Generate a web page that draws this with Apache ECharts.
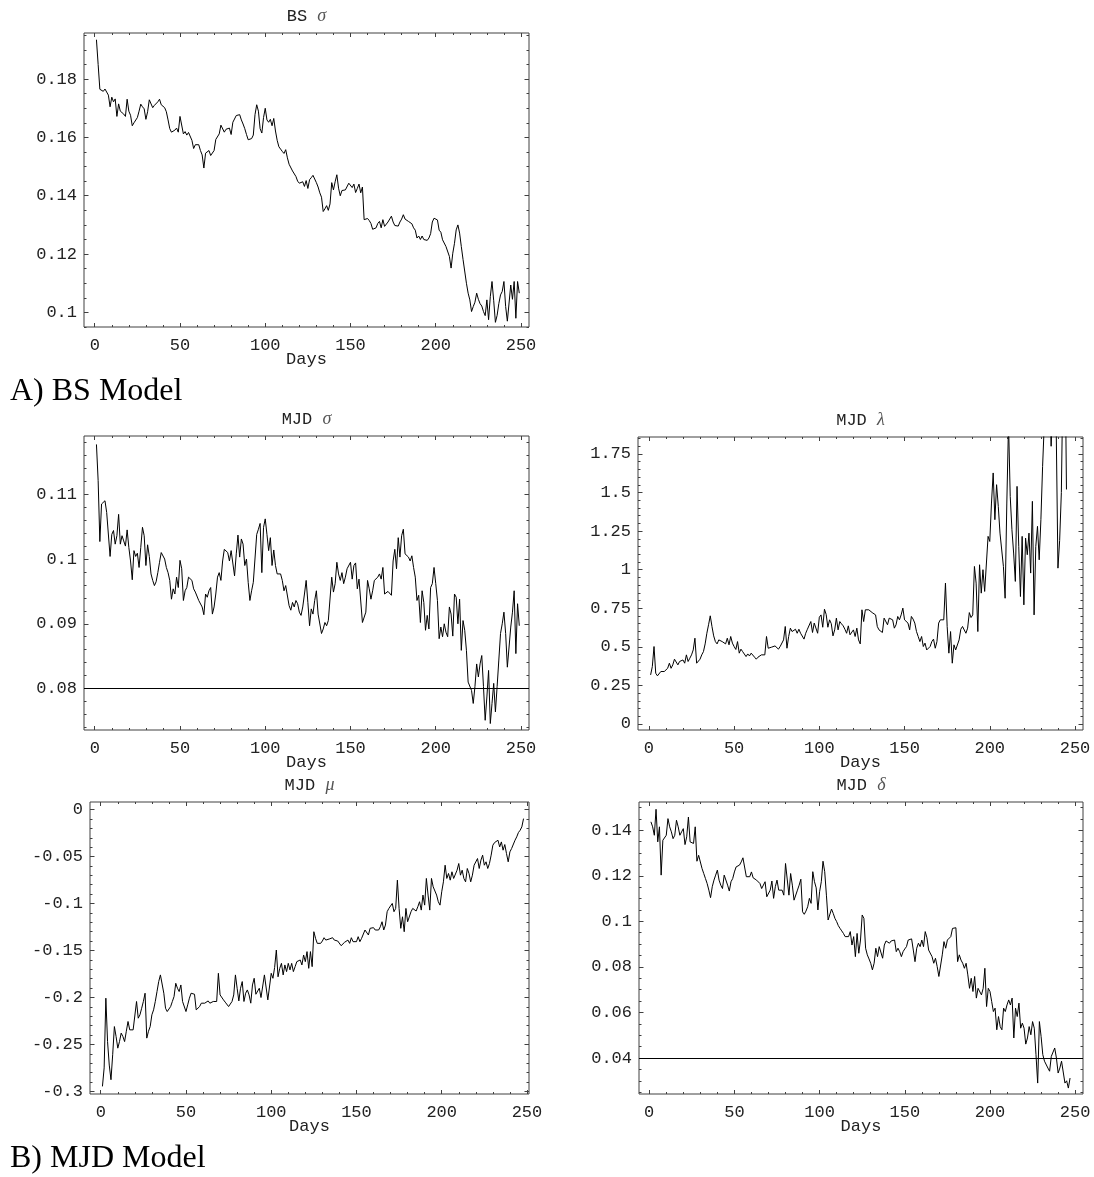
<!DOCTYPE html>
<html>
<head>
<meta charset="utf-8">
<script src="https://cdn.jsdelivr.net/npm/echarts@6/dist/echarts.min.js"></script>
<style>
  html, body { margin: 0; padding: 0; background: #ffffff; }
  #chart { width: 1094px; height: 1177px; }
</style>
</head>
<body>
<div id="chart"></div>
<script>
// Day axis tick labels (shared by every panel)
const dayTicks = [0, 50, 100, 150, 200, 250];

// Black-Scholes implied volatility, one value per trading day
const bsSigma = [
  0.1935, 0.1850, 0.1765, 0.1760, 0.1758, 0.1766, 0.1762, 0.1745, 0.1705, 0.1738,
  0.1722, 0.1732, 0.1672, 0.1715, 0.1690, 0.1695, 0.1680, 0.1672, 0.1731, 0.1690,
  0.1676, 0.1640, 0.1650, 0.1648, 0.1668, 0.1690, 0.1714, 0.1705, 0.1698, 0.1662,
  0.1688, 0.1729, 0.1733, 0.1702, 0.1710, 0.1716, 0.1722, 0.1731, 0.1712, 0.1710,
  0.1702, 0.1688, 0.1660, 0.1630, 0.1618, 0.1620, 0.1625, 0.1632, 0.1618, 0.1672,
  0.1672, 0.1612, 0.1620, 0.1608, 0.1617, 0.1612, 0.1590, 0.1562, 0.1575, 0.1572,
  0.1575, 0.1555, 0.1540, 0.1495, 0.1546, 0.1552, 0.1555, 0.1538, 0.1542, 0.1555,
  0.1593, 0.1590, 0.1612, 0.1642, 0.1640, 0.1618, 0.1628, 0.1630, 0.1632, 0.1610,
  0.1652, 0.1648, 0.1675, 0.1672, 0.1678, 0.1660, 0.1646, 0.1630, 0.1610, 0.1592,
  0.1596, 0.1596, 0.1608, 0.1678, 0.1712, 0.1690, 0.1630, 0.1615, 0.1668, 0.1700,
  0.1660, 0.1652, 0.1662, 0.1640, 0.1665, 0.1622, 0.1590, 0.1568, 0.1560, 0.1552,
  0.1545, 0.1558, 0.1530, 0.1508, 0.1505, 0.1485, 0.1484, 0.1466, 0.1450, 0.1443,
  0.1445, 0.1448, 0.1432, 0.1452, 0.1425, 0.1455, 0.1462, 0.1470, 0.1473, 0.1445,
  0.1430, 0.1410, 0.1395, 0.1346, 0.1355, 0.1366, 0.1350, 0.1372, 0.1445, 0.1420,
  0.1448, 0.1472, 0.1426, 0.1400, 0.1418, 0.1416, 0.1420, 0.1418, 0.1443, 0.1438,
  0.1428, 0.1440, 0.1411, 0.1425, 0.1440, 0.1410, 0.1430, 0.1318, 0.1320, 0.1322,
  0.1315, 0.1305, 0.1285, 0.1283, 0.1290, 0.1305, 0.1312, 0.1290, 0.1318, 0.1295,
  0.1300, 0.1310, 0.1315, 0.1330, 0.1310, 0.1298, 0.1298, 0.1296, 0.1310, 0.1320,
  0.1335, 0.1320, 0.1322, 0.1312, 0.1318, 0.1304, 0.1290, 0.1282, 0.1255, 0.1262,
  0.1250, 0.1262, 0.1250, 0.1248, 0.1247, 0.1255, 0.1270, 0.1310, 0.1323, 0.1324,
  0.1317, 0.1282, 0.1275, 0.1249, 0.1252, 0.1226, 0.1222, 0.1192, 0.1152, 0.1203,
  0.1237, 0.1283, 0.1300, 0.1272, 0.1226, 0.1182, 0.1178, 0.1100, 0.1066, 0.1043,
  0.1003, 0.1020, 0.1035, 0.1066, 0.1045, 0.1030, 0.1022, 0.1003, 0.0989, 0.1043,
  0.0975, 0.1054, 0.1106, 0.1040, 0.0966, 0.0990, 0.1030, 0.1060, 0.1072, 0.1106,
  0.1020, 0.0970, 0.0972, 0.1094, 0.1045, 0.1106, 0.0980, 0.1106, 0.1066
];

// Merton jump-diffusion: diffusion volatility
const mjdSigma = [
  0.1177, 0.1121, 0.1027, 0.1085, 0.1087, 0.1090, 0.1072, 0.1069, 0.1004, 0.1038,
  0.1044, 0.1023, 0.1036, 0.1069, 0.1023, 0.1036, 0.1028, 0.1020, 0.1045, 0.1018,
  0.0997, 0.0968, 0.1013, 0.1004, 0.1009, 0.0987, 0.1018, 0.1049, 0.1036, 0.0990,
  0.1022, 0.1004, 0.0977, 0.0967, 0.0959, 0.0965, 0.0979, 0.0995, 0.1010, 0.1008,
  0.1000, 0.0987, 0.0979, 0.0967, 0.0938, 0.0954, 0.0946, 0.0972, 0.0956, 0.0998,
  0.0985, 0.0936, 0.0951, 0.0956, 0.0972, 0.0973, 0.0967, 0.0954, 0.0949, 0.0951,
  0.0936, 0.0933, 0.0926, 0.0914, 0.0946, 0.0941, 0.0951, 0.0956, 0.0915, 0.0926,
  0.0946, 0.0972, 0.0979, 0.0967, 0.0997, 0.1015, 0.1013, 0.1010, 0.0997, 0.1013,
  0.1010, 0.0974, 0.1008, 0.1037, 0.1003, 0.1031, 0.1023, 0.0990, 0.1000, 0.0964,
  0.0936, 0.0951, 0.0964, 0.0962, 0.1038, 0.1046, 0.1055, 0.0979, 0.1049, 0.1062,
  0.1038, 0.1013, 0.1033, 0.0990, 0.1014, 0.0990, 0.0977, 0.0974, 0.0977, 0.0967,
  0.0951, 0.0959, 0.0962, 0.0928, 0.0921, 0.0933, 0.0926, 0.0936, 0.0931, 0.0918,
  0.0913, 0.0926, 0.0946, 0.0967, 0.0933, 0.0897, 0.0923, 0.0915, 0.0936, 0.0951,
  0.0915, 0.0918, 0.0885, 0.0892, 0.0902, 0.0897, 0.0905, 0.0905, 0.0972, 0.0949,
  0.0962, 0.0995, 0.0977, 0.0967, 0.0979, 0.0962, 0.0972, 0.0985, 0.0987, 0.0995,
  0.0969, 0.0990, 0.0994, 0.0954, 0.0969, 0.0967, 0.0902, 0.0905, 0.0918, 0.0967,
  0.0954, 0.0938, 0.0951, 0.0967, 0.0968, 0.0972, 0.0977, 0.0969, 0.0987, 0.0946,
  0.0946, 0.0950, 0.0952, 0.0944, 0.0997, 0.1015, 0.0985, 0.1033, 0.1003, 0.1036,
  0.1046, 0.1008, 0.1005, 0.1003, 0.0997, 0.1005, 0.0987, 0.0972, 0.0936, 0.0944,
  0.0902, 0.0951, 0.0933, 0.0890, 0.0913, 0.0892, 0.0956, 0.0962, 0.0987, 0.0962,
  0.0936, 0.0877, 0.0895, 0.0880, 0.0900, 0.0887, 0.0880, 0.0926, 0.0915, 0.0881,
  0.0946, 0.0941, 0.0900, 0.0938, 0.0859, 0.0905, 0.0890, 0.0859, 0.0810, 0.0813,
  0.0797, 0.0777, 0.0803, 0.0838, 0.0818, 0.0838, 0.0851, 0.0803, 0.0751, 0.0787,
  0.0828, 0.0746, 0.0777, 0.0808, 0.0764, 0.0803, 0.0844, 0.0885, 0.0900, 0.0918,
  0.0885, 0.0833, 0.0833, 0.0895, 0.0918, 0.0951, 0.0854, 0.0931, 0.0897
];

// Merton jump-diffusion: jump intensity (values above the frame are clipped)
const mjdLambda = [
  0.318, 0.372, 0.502, 0.329, 0.312, 0.303, 0.340, 0.329, 0.340, 0.329,
  0.361, 0.394, 0.361, 0.383, 0.420, 0.415, 0.383, 0.405, 0.405, 0.415,
  0.394, 0.448, 0.405, 0.426, 0.448, 0.480, 0.556, 0.394, 0.398, 0.420,
  0.448, 0.469, 0.519, 0.588, 0.643, 0.701, 0.632, 0.571, 0.534, 0.519,
  0.545, 0.556, 0.534, 0.545, 0.519, 0.556, 0.513, 0.567, 0.524, 0.502,
  0.483, 0.534, 0.459, 0.485, 0.469, 0.459, 0.437, 0.454, 0.441, 0.459,
  0.454, 0.433, 0.420, 0.433, 0.426, 0.448, 0.441, 0.448, 0.567, 0.491,
  0.496, 0.498, 0.502, 0.506, 0.502, 0.485, 0.502, 0.513, 0.545, 0.632,
  0.491, 0.567, 0.621, 0.599, 0.610, 0.614, 0.588, 0.614, 0.588, 0.578,
  0.550, 0.588, 0.614, 0.610, 0.664, 0.593, 0.654, 0.650, 0.588, 0.692,
  0.707, 0.627, 0.744, 0.710, 0.627, 0.675, 0.650, 0.571, 0.610, 0.686,
  0.610, 0.664, 0.649, 0.636, 0.614, 0.588, 0.636, 0.578, 0.588, 0.610,
  0.567, 0.621, 0.545, 0.519, 0.740, 0.664, 0.740, 0.751, 0.740, 0.729,
  0.722, 0.718, 0.707, 0.632, 0.610, 0.599, 0.593, 0.686, 0.675, 0.643,
  0.686, 0.686, 0.675, 0.621, 0.643, 0.697, 0.675, 0.707, 0.751, 0.675,
  0.680, 0.654, 0.610, 0.697, 0.680, 0.654, 0.599, 0.567, 0.534, 0.567,
  0.502, 0.524, 0.480, 0.469, 0.502, 0.534, 0.550, 0.491, 0.534, 0.654,
  0.675, 0.675, 0.675, 0.913, 0.632, 0.459, 0.599, 0.394, 0.513, 0.480,
  0.480, 0.545, 0.614, 0.632, 0.621, 0.588, 0.621, 0.722, 0.690, 0.707,
  1.021, 0.913, 0.599, 1.032, 0.848, 1.000, 0.859, 0.859, 1.216, 1.183,
  1.432, 1.627, 1.324, 1.551, 1.410, 1.237, 1.227, 1.021, 0.815, 1.432,
  1.950, 1.475, 1.259, 1.108, 0.924, 1.540, 1.151, 0.826, 1.216, 0.772,
  1.205, 1.097, 1.237, 0.978, 1.443, 0.707, 1.151, 1.281, 1.064, 1.324,
  1.670, 1.950, 2.300, 2.600, 2.200, 1.800, 2.100, 2.400, 1.900, 1.010,
  1.190, 1.500, 2.300, 2.600, 1.520
];

// Merton jump-diffusion: mean jump size
const mjdMu = [
  -0.2947, -0.2750, -0.2008, -0.2470, -0.2720, -0.2876, -0.2610, -0.2310, -0.2416, -0.2540,
  -0.2470, -0.2380, -0.2416, -0.2470, -0.2360, -0.2256, -0.2345, -0.2355, -0.2345, -0.2327,
  -0.2043, -0.2221, -0.2185, -0.2115, -0.2043, -0.1955, -0.2433, -0.2360, -0.2310, -0.2185,
  -0.2132, -0.2043, -0.1937, -0.1831, -0.1760, -0.1778, -0.1955, -0.2115, -0.2150, -0.2132,
  -0.2097, -0.2043, -0.1990, -0.1849, -0.1902, -0.1937, -0.1867, -0.2043, -0.2043, -0.2150,
  -0.2079, -0.2008, -0.1955, -0.1966, -0.1966, -0.2132, -0.2132, -0.2097, -0.2061, -0.2061,
  -0.2061, -0.2043, -0.2037, -0.2061, -0.2061, -0.2043, -0.2061, -0.2043, -0.1743,
  -0.1973, -0.1966, -0.2026, -0.2050, -0.2061, -0.2097, -0.2115, -0.2043, -0.1973, -0.1760,
  -0.1902, -0.2037, -0.1902, -0.1831, -0.2043, -0.1955, -0.1920, -0.1973, -0.2061, -0.1867,
  -0.1796, -0.1966, -0.1973, -0.1902, -0.2001, -0.2008, -0.1760, -0.1743, -0.2026, -0.2026,
  -0.1743, -0.1796, -0.1680, -0.1495, -0.1780, -0.1690, -0.1637, -0.1760, -0.1654, -0.1725,
  -0.1637, -0.1707, -0.1637, -0.1725, -0.1672, -0.1619, -0.1637, -0.1601, -0.1654, -0.1548,
  -0.1619, -0.1512, -0.1690, -0.1512, -0.1672, -0.1300,
  -0.1371, -0.1424, -0.1442, -0.1424, -0.1399, -0.1364, -0.1389, -0.1406, -0.1378, -0.1371,
  -0.1364, -0.1389, -0.1406, -0.1399, -0.1406, -0.1449, -0.1435, -0.1413, -0.1424, -0.1389,
  -0.1424, -0.1364, -0.1406, -0.1389, -0.1406, -0.1353, -0.1406, -0.1371, -0.1389, -0.1282,
  -0.1300, -0.1335, -0.1264, -0.1272, -0.1257, -0.1282, -0.1264, -0.1282, -0.1247, -0.1194,
  -0.1282, -0.1229, -0.1087, -0.1052, -0.1070, -0.0999, -0.1087, -0.1052, -0.0751,
  -0.1052, -0.1264, -0.1141, -0.1300, -0.1052, -0.1194, -0.1211, -0.1087, -0.1052, -0.1070,
  -0.1080, -0.1034, -0.0981, -0.1070, -0.0910, -0.1017, -0.0733, -0.0910, -0.1070, -0.0733,
  -0.0822, -0.0839, -0.0910, -0.0981, -0.1017, -0.0875, -0.0769, -0.0592, -0.0733, -0.0680,
  -0.0751, -0.0662, -0.0733, -0.0733, -0.0645, -0.0574, -0.0698, -0.0645, -0.0733, -0.0769,
  -0.0627, -0.0680, -0.0769, -0.0698, -0.0592, -0.0574, -0.0521, -0.0627, -0.0538, -0.0485,
  -0.0592, -0.0556, -0.0627, -0.0574, -0.0485, -0.0379, -0.0351, -0.0351, -0.0326, -0.0397,
  -0.0344, -0.0432, -0.0372, -0.0468, -0.0556, -0.0450, -0.0414, -0.0414, -0.0326, -0.0290,
  -0.0244, -0.0220, -0.0184, -0.0096
];

// Merton jump-diffusion: jump size volatility
const mjdDelta = [
  0.1437, 0.1415, 0.1378, 0.1492, 0.1349, 0.1415, 0.1203, 0.1356, 0.1356, 0.1378,
  0.1451, 0.1415, 0.1393, 0.1363, 0.1378, 0.1444, 0.1415, 0.1378, 0.1393, 0.1407,
  0.1337, 0.1371, 0.1458, 0.1349, 0.1346, 0.1342, 0.1415, 0.1264, 0.1290, 0.1298,
  0.1232, 0.1210, 0.1188, 0.1166, 0.1137, 0.1104, 0.1152, 0.1181, 0.1203, 0.1225,
  0.1181, 0.1159, 0.1144, 0.1203, 0.1203, 0.1159, 0.1133, 0.1174, 0.1188, 0.1217,
  0.1239, 0.1232, 0.1247, 0.1261, 0.1279, 0.1279, 0.1196, 0.1188, 0.1196, 0.1217,
  0.1191, 0.1185, 0.1181, 0.1177, 0.1166, 0.1144, 0.1152, 0.1174, 0.1108, 0.1115,
  0.1137, 0.1177, 0.1101, 0.1152, 0.1181, 0.1137, 0.1144, 0.1137, 0.1115, 0.1254,
  0.1254, 0.1115, 0.1210, 0.1159, 0.1093, 0.1086, 0.1137, 0.1159, 0.1185, 0.1042,
  0.1031, 0.1045, 0.1064, 0.1101, 0.1079, 0.1218, 0.1174, 0.1147, 0.1050, 0.1130,
  0.1174, 0.1264, 0.1218, 0.1115, 0.1006, 0.1001, 0.1054, 0.1035, 0.1013, 0.0999,
  0.0981, 0.0969, 0.0958, 0.0947, 0.0933, 0.0940, 0.0933, 0.0955, 0.0896,
  0.0933, 0.0845, 0.0947, 0.0860, 0.0918, 0.1028, 0.1013, 0.0882,
  0.0853, 0.0835, 0.0816, 0.0787, 0.0816, 0.0882, 0.0845, 0.0889,
  0.0885, 0.0838, 0.0896, 0.0914, 0.0918, 0.0904, 0.0914, 0.0911,
  0.0918, 0.0867, 0.0882, 0.0867, 0.0845, 0.0867, 0.0879, 0.0889,
  0.0918, 0.0911, 0.0923, 0.0874, 0.0823, 0.0882, 0.0904, 0.0889,
  0.0918, 0.0889, 0.0955, 0.0928, 0.0874, 0.0867, 0.0845, 0.0816,
  0.0838, 0.0802, 0.0758, 0.0765, 0.0853, 0.0911, 0.0882, 0.0918,
  0.0911, 0.0933, 0.0969, 0.0969, 0.0972, 0.0823, 0.0853, 0.0830,
  0.0816, 0.0794, 0.0816, 0.0765, 0.0706, 0.0750, 0.0692, 0.0758,
  0.0663, 0.0706, 0.0706, 0.0677, 0.0706, 0.0794, 0.0626, 0.0706,
  0.0692, 0.0648, 0.0604, 0.0619, 0.0524, 0.0582, 0.0538, 0.0524,
  0.0619, 0.0604, 0.0633, 0.0655, 0.0633, 0.0663, 0.0488, 0.0619,
  0.0582, 0.0641, 0.0531, 0.0553, 0.0531, 0.0461, 0.0488, 0.0538,
  0.0502, 0.0560, 0.0531, 0.0415, 0.0290, 0.0560, 0.0495, 0.0415,
  0.0386, 0.0393, 0.0356, 0.0342, 0.0407, 0.0415, 0.0444, 0.0400,
  0.0334, 0.0356, 0.0386, 0.0378, 0.0290, 0.0300, 0.0268, 0.0312
];

// Value-axis tick labels
const bsSigmaTicks = [0.1, 0.12, 0.14, 0.16, 0.18];
const mjdSigmaTicks = [0.08, 0.09, 0.1, 0.11];
const mjdLambdaTicks = [0, 0.25, 0.5, 0.75, 1, 1.25, 1.5, 1.75];
const mjdMuTicks = [-0.3, -0.25, -0.2, -0.15, -0.1, -0.05, 0];
const mjdDeltaTicks = [0.04, 0.06, 0.08, 0.1, 0.12, 0.14];

// Reference levels drawn across two of the panels
const mjdSigmaLevel = 0.08;
const mjdDeltaLevel = 0.04;

// Panel layout: frame box [left, top, width, height] in px, axis extents, minor steps
const panels = [
  { label: 'BS', greek: 'σ', data: bsSigma, ticks: bsSigmaTicks, minor: 0.005,
    box: [84, 33, 445, 294], x: [-6.3, 254.7], y: [0.0950, 0.1958] },
  { label: 'MJD', greek: 'σ', data: mjdSigma, ticks: mjdSigmaTicks, minor: 0.002, level: mjdSigmaLevel,
    box: [84, 436, 445, 294], x: [-6.3, 254.7], y: [0.0736, 0.1190] },
  { label: 'MJD', greek: 'λ', data: mjdLambda, ticks: mjdLambdaTicks, minor: 0.05,
    box: [638, 437, 445, 293], x: [-6.4, 254.7], y: [-0.039, 1.860] },
  { label: 'MJD', greek: 'μ', data: mjdMu, ticks: mjdMuTicks, minor: 0.01,
    box: [90, 802, 439, 292], x: [-6.3, 251.2], y: [-0.3028, 0.0081] },
  { label: 'MJD', greek: 'δ', data: mjdDelta, ticks: mjdDeltaTicks, minor: 0.005, level: mjdDeltaLevel,
    box: [639, 802, 444, 292], x: [-6.0, 254.6], y: [0.0242, 0.1524] }
];

const FRAME = '#404040';
const TEXT = '#222222';
const MONO = '"Liberation Mono", "DejaVu Sans Mono", monospace';
const SERIF = '"Liberation Serif", "DejaVu Serif", serif';

function stepValues(lo, hi, step, skip) {
  const out = [];
  const k0 = Math.ceil(lo / step - 1e-9);
  for (let k = k0; k * step <= hi + 1e-9; k++) {
    const v = +(k * step).toFixed(6);
    if (!skip.some(s => Math.abs(s - v) < 1e-9)) out.push(v);
  }
  return out;
}

function fmt(v) { return String(+(+v).toFixed(4)); }

function axis(kind, g, pos, range, values, len, withLabels) {
  const a = {
    type: 'value', gridIndex: g, position: pos, min: range[0], max: range[1],
    axisLine: { show: false, onZero: false }, splitLine: { show: false },
    axisTick: { show: true, inside: true, length: len, customValues: values,
                lineStyle: { color: FRAME, width: 1 } },
    axisLabel: { show: false }
  };
  if (withLabels) {
    a.axisLabel = {
      show: true, customValues: values, formatter: fmt,
      margin: kind === 'x' ? 10 : 7, color: TEXT, fontFamily: MONO, fontSize: 17
    };
  }
  return a;
}

const grids = [], xAxes = [], yAxes = [], series = [], graphics = [];

panels.forEach((p, g) => {
  const [left, top, width, height] = p.box;
  grids.push({ left, top, width, height, show: true, borderColor: FRAME, borderWidth: 1,
               backgroundColor: 'transparent' });

  const xMinor = stepValues(p.x[0], p.x[1], 10, dayTicks);
  const yMinor = stepValues(p.y[0], p.y[1], p.minor, p.ticks);

  xAxes.push(axis('x', g, 'bottom', p.x, dayTicks, 4, true));
  xAxes.push(axis('x', g, 'bottom', p.x, xMinor, 2, false));
  xAxes.push(axis('x', g, 'top', p.x, dayTicks, 4, false));
  xAxes.push(axis('x', g, 'top', p.x, xMinor, 2, false));

  yAxes.push(axis('y', g, 'left', p.y, p.ticks, 4.5, true));
  yAxes.push(axis('y', g, 'left', p.y, yMinor, 2.5, false));
  yAxes.push(axis('y', g, 'right', p.y, p.ticks, 4.5, false));
  yAxes.push(axis('y', g, 'right', p.y, yMinor, 2.5, false));

  const s = {
    type: 'line', xAxisIndex: 4 * g, yAxisIndex: 4 * g,
    data: p.data.map((v, i) => [i + 1, v]),
    showSymbol: false, symbol: 'none', clip: true, silent: true,
    lineStyle: { color: '#000000', width: 1 }
  };
  if (p.level !== undefined) {
    s.markLine = {
      silent: true, symbol: 'none', animation: false,
      label: { show: false },
      lineStyle: { color: '#000000', width: 1, type: 'solid' },
      data: [{ yAxis: p.level }]
    };
  }
  series.push(s);

  const cx = left + width / 2;
  graphics.push({
    type: 'text', x: cx, y: top - 17,
    style: {
      text: '{a|' + p.label + ' }{b|' + p.greek + '}',
      align: 'center', verticalAlign: 'middle',
      rich: {
        a: { fontFamily: MONO, fontSize: 17, fill: TEXT },
        b: { fontFamily: SERIF, fontStyle: 'italic', fontSize: 18, fill: '#555555' }
      }
    }
  });
  graphics.push({
    type: 'text', x: cx, y: top + height + 32.5,
    style: { text: 'Days', fontFamily: MONO, fontSize: 17, fill: TEXT,
             align: 'center', verticalAlign: 'middle' }
  });
});

graphics.push({
  type: 'text', x: 10, y: 392,
  style: { text: 'A) BS Model', fontFamily: SERIF, fontSize: 32, fill: '#000000',
           align: 'left', verticalAlign: 'middle' }
});
graphics.push({
  type: 'text', x: 10, y: 1159,
  style: { text: 'B) MJD Model', fontFamily: SERIF, fontSize: 32, fill: '#000000',
           align: 'left', verticalAlign: 'middle' }
});

const chart = echarts.init(document.getElementById('chart'), null, { renderer: 'canvas' });
chart.setOption({
  backgroundColor: '#ffffff',
  animation: false,
  grid: grids,
  xAxis: xAxes,
  yAxis: yAxes,
  series: series,
  graphic: graphics
});
</script>
</body>
</html>
